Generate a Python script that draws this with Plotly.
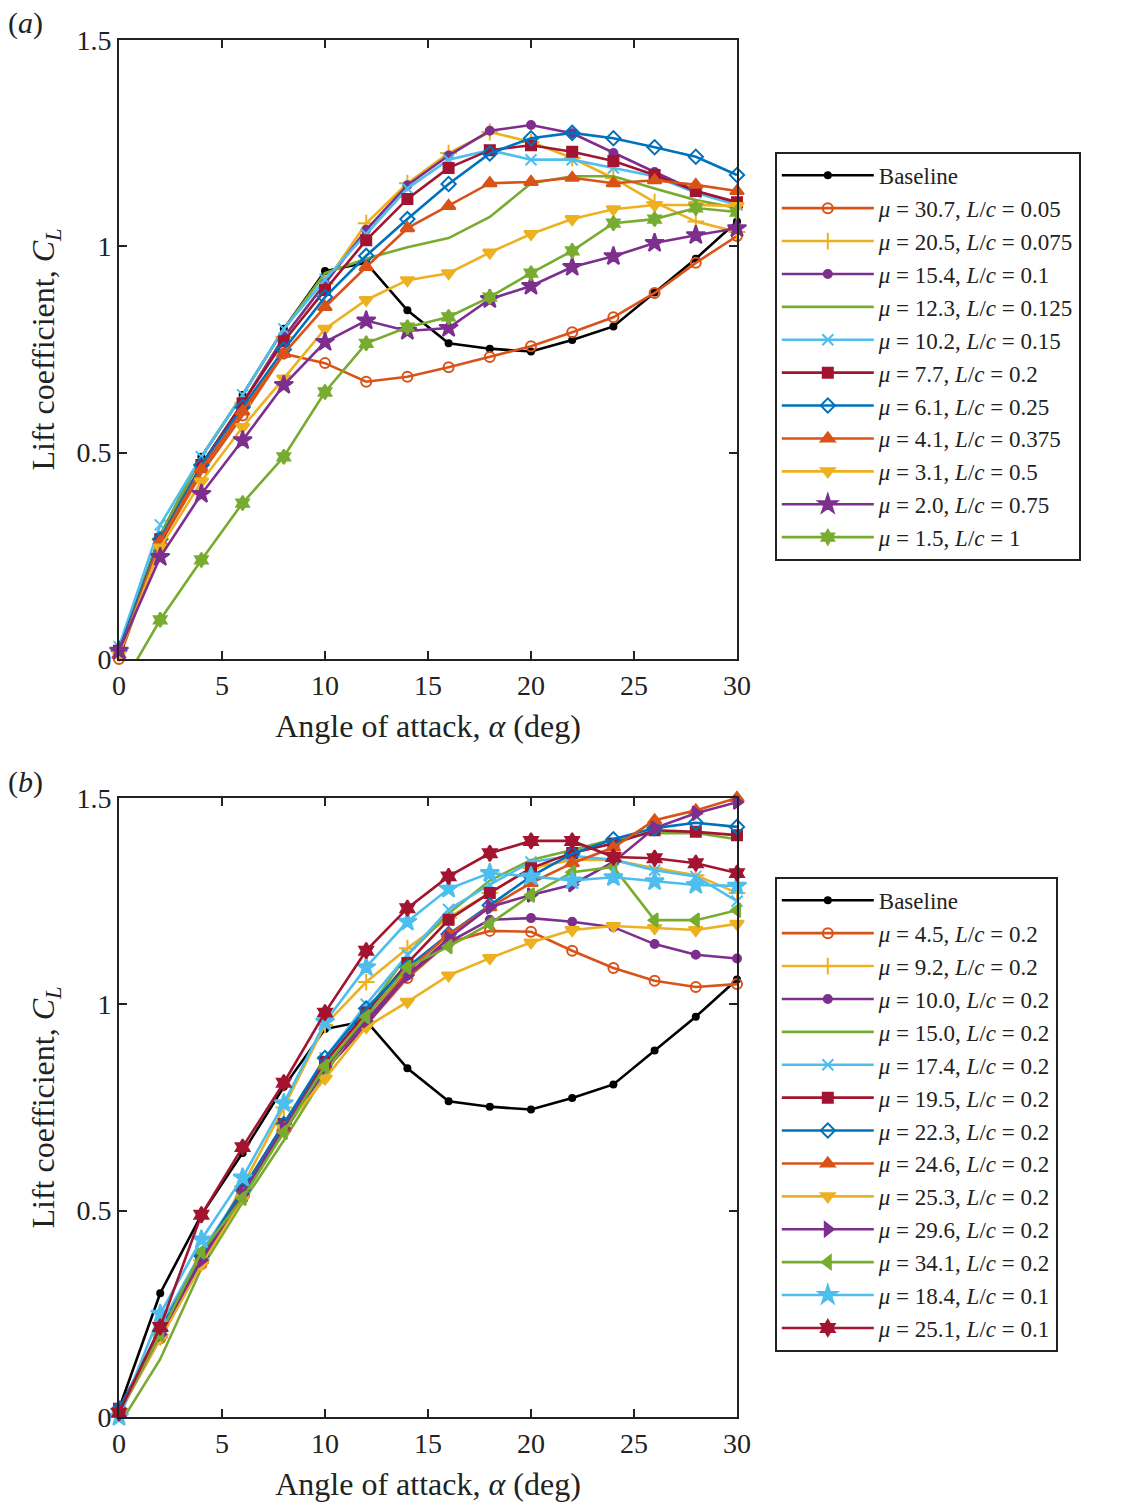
import plotly.graph_objects as go

alpha = [0, 2, 4, 6, 8, 10, 12, 14, 16, 18, 20, 22, 24, 26, 28, 30]

baseline = [0.02, 0.30, 0.49, 0.64, 0.80, 0.94, 0.96, 0.845, 0.765, 0.752, 0.745, 0.773, 0.806, 0.888, 0.97, 1.06]

# ---- Panel (a) ----
a_labels = ["30.7", "20.5", "15.4", "12.3", "10.2", "7.7", "6.1", "4.1", "3.1", "2.0", "1.5"]
a_Lc = ["0.05", "0.075", "0.1", "0.125", "0.15", "0.2", "0.25", "0.375", "0.5", "0.75", "1"]
a_mu30_7 = [0.00, 0.28, 0.45, 0.59, 0.74, 0.717, 0.672, 0.684, 0.707, 0.732, 0.758, 0.792, 0.828, 0.887, 0.96, 1.025]
a_mu20_5 = [0.02, 0.29, 0.47, 0.62, 0.78, 0.91, 1.056, 1.153, 1.226, 1.277, 1.253, 1.214, 1.165, 1.107, 1.06, 1.035]
a_mu15_4 = [0.02, 0.28, 0.47, 0.62, 0.78, 0.91, 1.04, 1.148, 1.22, 1.28, 1.294, 1.274, 1.226, 1.18, 1.134, 1.105]
a_mu12_3 = [0.02, 0.30, 0.49, 0.64, 0.80, 0.935, 0.97, 0.998, 1.02, 1.071, 1.153, 1.17, 1.17, 1.14, 1.112, 1.093]
a_mu10_2 = [0.03, 0.325, 0.49, 0.64, 0.80, 0.92, 1.03, 1.14, 1.21, 1.233, 1.21, 1.21, 1.19, 1.17, 1.13, 1.10]
a_mu7_7 = [0.02, 0.29, 0.47, 0.62, 0.77, 0.894, 1.015, 1.115, 1.19, 1.233, 1.245, 1.229, 1.207, 1.173, 1.134, 1.107]
a_mu6_1 = [0.02, 0.29, 0.47, 0.61, 0.75, 0.877, 0.977, 1.066, 1.151, 1.225, 1.262, 1.275, 1.262, 1.24, 1.217, 1.173]
a_mu4_1 = [0.01, 0.285, 0.46, 0.60, 0.74, 0.853, 0.95, 1.044, 1.098, 1.153, 1.156, 1.166, 1.153, 1.16, 1.149, 1.134]
a_mu3_1 = [0.01, 0.27, 0.43, 0.562, 0.68, 0.80, 0.87, 0.918, 0.935, 0.985, 1.03, 1.066, 1.09, 1.10, 1.10, 1.098]
a_mu2_0 = [0.02, 0.247, 0.40, 0.53, 0.664, 0.768, 0.82, 0.795, 0.802, 0.872, 0.904, 0.95, 0.976, 1.008, 1.027, 1.044]
a_mu1_5 = [-0.077, 0.095, 0.24, 0.378, 0.49, 0.647, 0.765, 0.804, 0.829, 0.877, 0.935, 0.989, 1.056, 1.066, 1.093, 1.083]

# ---- Panel (b) ----
b_labels = ["4.5", "9.2", "10.0", "15.0", "17.4", "19.5", "22.3", "24.6", "25.3", "29.6", "34.1", "18.4", "25.1"]
b_Lc = ["0.2", "0.2", "0.2", "0.2", "0.2", "0.2", "0.2", "0.2", "0.2", "0.2", "0.2", "0.1", "0.1"]
b_mu4_5 = [0.01, 0.19, 0.37, 0.53, 0.70, 0.84, 0.95, 1.064, 1.15, 1.178, 1.176, 1.13, 1.088, 1.057, 1.042, 1.049]
b_mu9_2 = [0.02, 0.20, 0.38, 0.56, 0.75, 0.95, 1.054, 1.136, 1.21, 1.27, 1.33, 1.35, 1.35, 1.33, 1.313, 1.27]
b_mu10_0 = [0.02, 0.20, 0.38, 0.54, 0.69, 0.84, 0.95, 1.07, 1.15, 1.205, 1.209, 1.20, 1.187, 1.146, 1.12, 1.111]
b_mu15_0 = [-0.02, 0.14, 0.36, 0.52, 0.67, 0.83, 0.98, 1.12, 1.22, 1.30, 1.35, 1.374, 1.40, 1.415, 1.415, 1.40]
b_mu17_4 = [0.00, 0.22, 0.40, 0.55, 0.71, 0.87, 1.00, 1.12, 1.23, 1.29, 1.345, 1.36, 1.35, 1.325, 1.31, 1.25]
b_mu19_5 = [0.02, 0.21, 0.39, 0.55, 0.71, 0.86, 0.98, 1.10, 1.205, 1.27, 1.33, 1.367, 1.39, 1.422, 1.418, 1.41]
b_mu22_3 = [0.02, 0.21, 0.39, 0.55, 0.71, 0.87, 0.99, 1.09, 1.17, 1.24, 1.31, 1.365, 1.40, 1.427, 1.44, 1.43]
b_mu24_6 = [0.01, 0.20, 0.38, 0.54, 0.70, 0.85, 0.96, 1.08, 1.17, 1.235, 1.294, 1.342, 1.38, 1.446, 1.47, 1.50]
b_mu25_3 = [0.01, 0.19, 0.37, 0.53, 0.70, 0.82, 0.945, 1.006, 1.07, 1.112, 1.15, 1.18, 1.19, 1.185, 1.18, 1.195]
b_mu29_6 = [0.01, 0.20, 0.38, 0.54, 0.70, 0.85, 0.96, 1.07, 1.16, 1.236, 1.265, 1.29, 1.345, 1.427, 1.463, 1.49]
b_mu34_1 = [0.01, 0.20, 0.40, 0.53, 0.69, 0.85, 0.97, 1.09, 1.14, 1.195, 1.265, 1.32, 1.333, 1.204, 1.204, 1.228]
b_mu18_4 = [0.00, 0.25, 0.43, 0.58, 0.76, 0.957, 1.09, 1.20, 1.28, 1.318, 1.31, 1.30, 1.308, 1.298, 1.289, 1.287]
b_mu25_1 = [0.01, 0.218, 0.49, 0.654, 0.81, 0.98, 1.13, 1.233, 1.31, 1.366, 1.396, 1.396, 1.357, 1.354, 1.342, 1.318]

BLUE, ORANGE, YELLOW, PURPLE, GREEN, LBLUE, DRED = (
    "#0072BD", "#D95319", "#EDB120", "#7E2F8E", "#77AC30", "#4DBEEE", "#A2142F")

FONT = "Liberation Serif, Times New Roman, serif"

a_series = [
    (a_mu30_7, ORANGE, "circle-open", 10),
    (a_mu20_5, YELLOW, "cross-thin-open", 12),
    (a_mu15_4, PURPLE, "circle", 8),
    (a_mu12_3, GREEN, None, 0),
    (a_mu10_2, LBLUE, "x-thin-open", 11),
    (a_mu7_7, DRED, "square-dot", 10),
    (a_mu6_1, BLUE, "diamond-open", 11),
    (a_mu4_1, ORANGE, "triangle-up", 12),
    (a_mu3_1, YELLOW, "triangle-down", 12),
    (a_mu2_0, PURPLE, "star", 14),
    (a_mu1_5, GREEN, "hexagram", 11),
]
b_series = [
    (b_mu4_5, ORANGE, "circle-open", 10),
    (b_mu9_2, YELLOW, "cross-thin-open", 12),
    (b_mu10_0, PURPLE, "circle", 8),
    (b_mu15_0, GREEN, None, 0),
    (b_mu17_4, LBLUE, "x-thin-open", 11),
    (b_mu19_5, DRED, "square-dot", 10),
    (b_mu22_3, BLUE, "diamond-open", 11),
    (b_mu24_6, ORANGE, "triangle-up", 12),
    (b_mu25_3, YELLOW, "triangle-down", 12),
    (b_mu29_6, PURPLE, "triangle-right", 12),
    (b_mu34_1, GREEN, "triangle-left", 12),
    (b_mu18_4, LBLUE, "star", 14),
    (b_mu25_1, DRED, "hexagram", 12),
]

fig = go.Figure()


def add_trace(y, name, color, symbol, size, xa, ya, legend):
    clip = any(v < 0 for v in y)
    if symbol is None:
        mode = "lines"
        marker = None
    else:
        mode = "lines+markers"
        marker = dict(symbol=symbol, size=size, color=color,
                      line=dict(color=color, width=2))
    fig.add_trace(go.Scatter(
        x=alpha, y=y, name=name, mode=mode, marker=marker,
        line=dict(color=color, width=2.6),
        xaxis=xa, yaxis=ya, legend=legend, cliponaxis=clip))


for lbls, lcs, series, xa, ya, leg in [
        (a_labels, a_Lc, a_series, "x", "y", "legend"),
        (b_labels, b_Lc, b_series, "x2", "y2", "legend2")]:
    fig.add_trace(go.Scatter(
        x=alpha, y=baseline, name="Baseline", mode="lines+markers",
        marker=dict(symbol="circle", size=8, color="black"),
        line=dict(color="black", width=2.6),
        xaxis=xa, yaxis=ya, legend=leg, cliponaxis=False))
    for lab, lc, (vals, col, sym, sz) in zip(lbls, lcs, series):
        nm = f"<i>μ</i> = {lab}, <i>L</i>/<i>c</i> = {lc}"
        add_trace(vals, nm, col, sym, sz, xa, ya, leg)

W, H = 1128, 1504
xdom = [119 / W, 737 / W]
ydom_a = [1 - 659 / H, 1 - 40 / H]
ydom_b = [1 - 1417 / H, 1 - 798 / H]

axis_common = dict(
    showline=True, linecolor="#222", linewidth=1.8, mirror="ticks",
    ticks="inside", ticklen=8, tickwidth=1.5, tickcolor="#222",
    showgrid=False, zeroline=False, automargin=False,
    tickfont=dict(family=FONT, size=28, color="#222"),
)
xaxis_common = dict(axis_common, range=[0, 30], tickvals=[0, 5, 10, 15, 20, 25, 30],
                    title=dict(text="Angle of attack, <i>α</i> (deg)",
                               font=dict(family=FONT, size=32, color="#222"), standoff=15))
yaxis_common = dict(axis_common, range=[0, 1.5], tickvals=[0, 0.5, 1, 1.5],
                    ticktext=["0", "0.5", "1", "1.5"],
                    title=dict(text="Lift coefficient, <i>C</i><sub><i>L</i></sub>",
                               font=dict(family=FONT, size=32, color="#222"), standoff=12))

legend_common = dict(
    bgcolor="white", bordercolor="#222", borderwidth=1.8,
    font=dict(family=FONT, size=23, color="#222"),
    xanchor="left", yanchor="top", tracegroupgap=0, itemwidth=92,
)

fig.update_layout(
    width=W, height=H,
    margin=dict(l=0, r=0, t=0, b=0),
    plot_bgcolor="white", paper_bgcolor="white",
    xaxis=dict(xaxis_common, domain=xdom, anchor="y"),
    yaxis=dict(yaxis_common, domain=ydom_a, anchor="x"),
    xaxis2=dict(xaxis_common, domain=xdom, anchor="y2"),
    yaxis2=dict(yaxis_common, domain=ydom_b, anchor="x2"),
    legend=dict(legend_common, x=775 / W, y=1 - 152 / H),
    legend2=dict(legend_common, x=775 / W, y=1 - 877 / H),
    annotations=[
        dict(text="(<i>a</i>)", x=6 / W, y=1 - 4 / H, xref="paper", yref="paper",
             xanchor="left", yanchor="top", showarrow=False,
             font=dict(family=FONT, size=30, color="#222")),
        dict(text="(<i>b</i>)", x=6 / W, y=1 - 763 / H, xref="paper", yref="paper",
             xanchor="left", yanchor="top", showarrow=False,
             font=dict(family=FONT, size=30, color="#222")),
    ],
)

fig.write_html("out.html")
